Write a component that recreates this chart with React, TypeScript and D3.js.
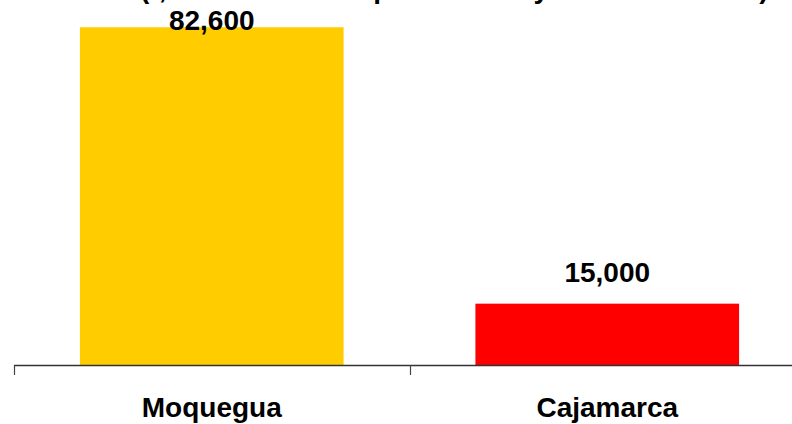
import React from "react";
import * as d3 from "d3";

const categories: string[] = ["Moquegua", "Cajamarca"];
const values: number[] = [82600, 15000];
const barColors: string[] = ["#FFCC00", "#FF0000"];
const titleText = "Cobre (t, incremento de producción y de las reservas)";

const W = 792;
const H = 424;
const FONT = "Arial, 'Liberation Sans', Helvetica, sans-serif";

export default function App() {
  const x = d3.scaleBand<string>().domain(categories).range([14, 805]).padding(0);
  const y = d3.scaleLinear().domain([0, 90000]).range([365, -3]);
  const bw = x.bandwidth();
  const fmt = d3.format(",");

  return (
    <svg
      width={W}
      height={H}
      style={{ position: "absolute", left: 0, top: 0, background: "#fff" }}
      fontFamily={FONT}
    >
      <rect x={0} y={0} width={W} height={H} fill="#fff" />
      <text x={410} y={-2} textAnchor="middle" fontSize={28} fontWeight="bold" fill="#000">
        {titleText}
      </text>
      {categories.map((c, i) => {
        const bx = (x(c) as number) + bw / 6;
        const top = y(values[i]);
        const ly = Math.max(top - 22, 30);
        return (
          <g key={c}>
            <rect x={bx} y={top} width={(bw * 2) / 3} height={y(0) - top} fill={barColors[i]} />
            <text
              x={(x(c) as number) + bw / 2}
              y={ly}
              textAnchor="middle"
              fontSize={28}
              fontWeight="bold"
              fill="#000"
            >
              {fmt(values[i])}
            </text>
            <text
              x={(x(c) as number) + bw / 2}
              y={417}
              textAnchor="middle"
              fontSize={28}
              fontWeight="bold"
              fill="#000"
            >
              {c}
            </text>
          </g>
        );
      })}
      <line x1={14} x2={W} y1={y(0) + 0.5} y2={y(0) + 0.5} stroke="#333" strokeWidth={1.5} />
      {categories.map((c) => (
        <line
          key={"t" + c}
          x1={Math.round(x(c) as number) + 0.5}
          x2={Math.round(x(c) as number) + 0.5}
          y1={y(0)}
          y2={y(0) + 10}
          stroke="#444"
          strokeWidth={1.2}
        />
      ))}
    </svg>
  );
}
